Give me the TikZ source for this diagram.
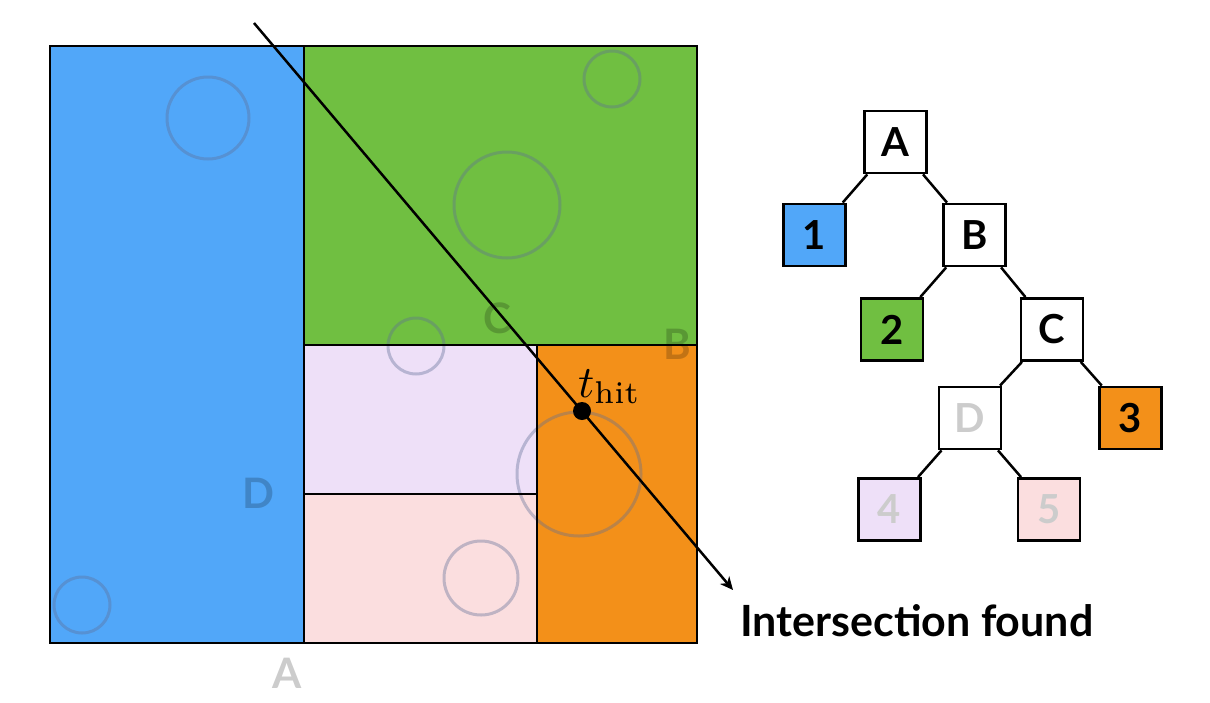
\documentclass[tikz,border=0pt]{standalone}
\usepackage{fontspec}
\newfontfamily\labfont{Lato}
\usetikzlibrary{arrows.meta}
\definecolor{cblue}{RGB}{81,167,249}
\definecolor{cgreen}{RGB}{112,191,65}
\definecolor{corange}{RGB}{243,144,25}
\definecolor{clav}{RGB}{238,224,248}
\definecolor{cpink}{RGB}{251,222,223}
\definecolor{ccirc}{RGB}{95,110,150}
\definecolor{cfaint}{RGB}{204,204,204}
\begin{document}
\begin{tikzpicture}[x=1pt,y=-1pt,
  region/.style={draw=black,line width=2.8pt},
  bcirc/.style={draw=ccirc,draw opacity=0.38,line width=3pt},
  faintlab/.style={text=black,text opacity=0.2,font=\labfont\bfseries\fontsize{42}{42}\selectfont,inner sep=0},
  treebox/.style={draw=black,line width=2.8pt,minimum width=62pt,minimum height=62pt,inner sep=0,font=\labfont\bfseries\fontsize{40}{40}\selectfont},
  edge/.style={line width=2.5pt}]
\useasboundingbox (0,0) rectangle (1210,702);
\fill[white] (0,0) rectangle (1210,702);
% regions
\fill[cblue] (50,46) rectangle (304,643);
\fill[cgreen] (304,46) rectangle (697,345);
\fill[clav] (304,345) rectangle (537,494);
\fill[cpink] (304,494) rectangle (537,643);
\fill[corange] (537,345) rectangle (697,643);
% circles
\draw[bcirc] (208,118) circle[radius=41];
\draw[bcirc] (82,605) circle[radius=28];
\draw[bcirc] (612,79) circle[radius=28];
\draw[bcirc] (507,205) circle[radius=53];
\draw[bcirc] (416,346) circle[radius=28];
\draw[bcirc] (579,474) circle[radius=62];
\draw[bcirc] (481,578) circle[radius=37];
% faint labels
\node[faintlab] (lc) at (497,318) {C};
\node[faintlab] (lb) at (677,344) {B};
\node[faintlab] (ld) at (258,493) {D};
\node[faintlab] (la) at (287,673) {A};
% borders
\draw[region] (50,46) rectangle (304,643);
\draw[region] (304,46) rectangle (697,345);
\draw[region] (304,345) rectangle (537,494);
\draw[region] (304,494) rectangle (537,643);
\draw[region] (537,345) rectangle (697,643);
% ray
\coordinate (rs) at (254,23);
\coordinate (re) at (733,590);
\draw[line width=2.5pt,-{Stealth[length=13pt,width=12pt,inset=4pt]}] (rs) -- (re);
\node[circle,fill=black,minimum size=18pt,inner sep=0] (hit) at (582,411) {};
\node[anchor=base west,inner sep=0] (thit) at (578,397) {\scalebox{4.5}{$t_{\mathrm{hit}}$}};
\node[anchor=base west,inner sep=0,font=\labfont\bfseries\fontsize{43}{43}\selectfont] (found) at (740,636) {Intersection found};
% tree
\node[treebox,fill=white] (A) at (895.5,142) {A};
\node[treebox,fill=cblue] (n1) at (814.5,235) {1};
\node[treebox,fill=white] (B) at (974.5,235) {B};
\node[treebox,fill=cgreen] (n2) at (892,329.5) {2};
\node[treebox,fill=white] (C) at (1052,329.5) {C};
\node[treebox,fill=white,text=cfaint] (D) at (970,418) {D};
\node[treebox,fill=corange] (n3) at (1130.5,418) {3};
\node[treebox,fill=clav,text=cfaint] (n4) at (889.5,509.5) {4};
\node[treebox,fill=cpink,text=cfaint] (n5) at (1049,509.5) {5};
\draw[edge] (A) -- (n1);
\draw[edge] (A) -- (B);
\draw[edge] (B) -- (n2);
\draw[edge] (B) -- (C);
\draw[edge] (C) -- (D);
\draw[edge] (C) -- (n3);
\draw[edge] (D) -- (n4);
\draw[edge] (D) -- (n5);
\end{tikzpicture}
\end{document}
